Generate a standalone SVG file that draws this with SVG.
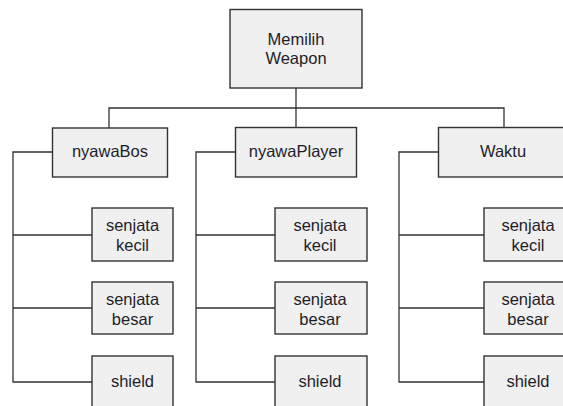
<svg xmlns="http://www.w3.org/2000/svg" width="563" height="406" viewBox="0 0 563 406">
<style>
.box{fill:#f0f0f0;stroke:#333;stroke-width:1.4}
.ln{fill:none;stroke:#333;stroke-width:1.3}
text{font-family:"Liberation Sans",Arial,sans-serif;font-size:16.5px;fill:#1e1e2a;text-anchor:middle}
</style>
<rect width="563" height="406" fill="#fff"/>
<g id="connectors">
<path class="ln" d="M296 88V128M109 128V108H504V128"/>
<path class="ln" d="M52 152H13V382H92M13 235H92M13 308H92"/>
<path class="ln" d="M236 152H196V382H275M196 235H275M196 308H275"/>
<path class="ln" d="M438 152H399V382H484M399 235H484M399 308H484"/>
</g>
<g id="root"><rect class="box" x="230" y="9.5" width="132" height="78.5"/><text x="296" y="45">Memilih</text><text x="296" y="64">Weapon</text></g>
<g id="nyawaBos"><rect class="box" x="52.5" y="128" width="115" height="49"/><text x="110" y="157">nyawaBos</text></g>
<g id="nyawaPlayer"><rect class="box" x="235.5" y="127.5" width="121" height="49.5"/><text x="296" y="157">nyawaPlayer</text></g>
<g id="Waktu"><rect class="box" x="438.5" y="127.5" width="132" height="49.5"/><text x="503" y="157">Waktu</text></g>
<g id="bos-kecil"><rect class="box" x="92" y="208" width="81" height="53"/><text x="132.5" y="231">senjata</text><text x="132.5" y="251">kecil</text></g>
<g id="bos-besar"><rect class="box" x="92" y="282" width="81" height="52"/><text x="132.5" y="304.5">senjata</text><text x="132.5" y="325">besar</text></g>
<g id="bos-shield"><rect class="box" x="92" y="356" width="81" height="53"/><text x="132.5" y="387">shield</text></g>
<g id="player-kecil"><rect class="box" x="275" y="208" width="92" height="53"/><text x="320" y="231">senjata</text><text x="320" y="251">kecil</text></g>
<g id="player-besar"><rect class="box" x="275" y="282" width="92" height="52"/><text x="320" y="304.5">senjata</text><text x="320" y="325">besar</text></g>
<g id="player-shield"><rect class="box" x="275" y="356" width="92" height="53"/><text x="320" y="387">shield</text></g>
<g id="waktu-kecil"><rect class="box" x="484" y="208" width="90" height="53"/><text x="528" y="231">senjata</text><text x="528" y="251">kecil</text></g>
<g id="waktu-besar"><rect class="box" x="484" y="282" width="90" height="52"/><text x="528" y="304.5">senjata</text><text x="528" y="325">besar</text></g>
<g id="waktu-shield"><rect class="box" x="484" y="356" width="90" height="53"/><text x="528" y="387">shield</text></g>
</svg>
